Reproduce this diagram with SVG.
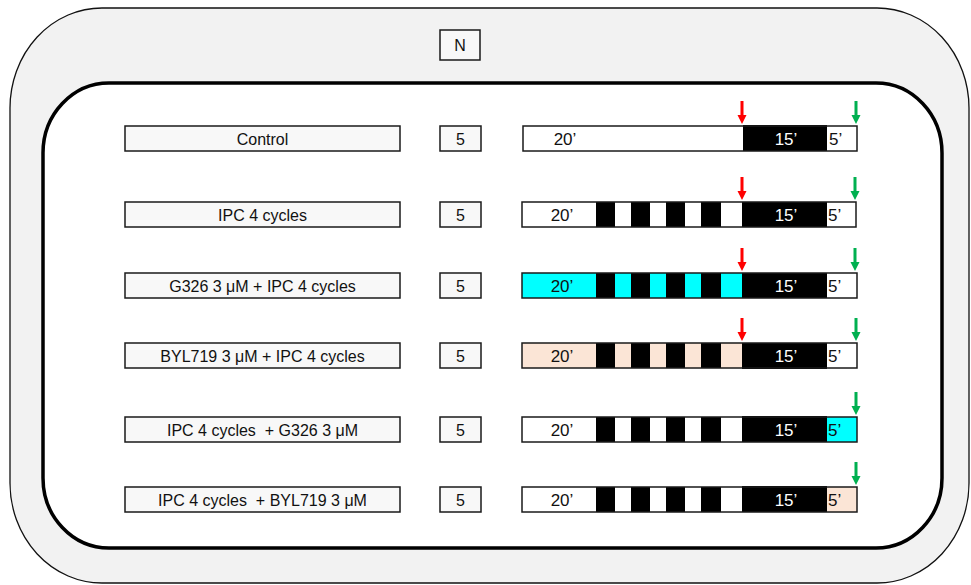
<svg xmlns="http://www.w3.org/2000/svg" xmlns:xlink="http://www.w3.org/1999/xlink" width="971" height="585" viewBox="0 0 971 585">
  <style>
    text { font-family: "Liberation Sans", Arial, sans-serif; font-size: 16px; fill: #111; white-space: pre; }
    .mid { text-anchor: middle; }
    .t { font-size: 17px; }
    .box { fill: #f8f8f8; stroke: #1a1a1a; stroke-width: 1.5; }
    .bar { fill: none; stroke: #1a1a1a; stroke-width: 1.5; }
    .w { fill: #ffffff; }
    .k { fill: #000000; }
    .c { fill: #00ffff; }
    .p { fill: #fbe5d6; }
    .wt { fill: #ffffff; }
    .red { fill: #ff0000; }
    .green { fill: #00b050; }
  </style>
  <defs>
    <!-- down arrow, tip at origin -->
    <path id="dn" d="M-1.5,-23 H1.5 V-9 H4.5 L0,0 L-4.5,-9 H-1.5 Z"/>
    <!-- 4 ischemia/reperfusion cycles between 20' and 15' blocks -->
    <g id="cycles">
      <rect class="k" x="596" y="0" width="19" height="25"/>
      <rect class="k" x="631" y="0" width="19" height="25"/>
      <rect class="k" x="666" y="0" width="19" height="25"/>
      <rect class="k" x="701" y="0" width="20" height="25"/>
    </g>
  </defs>

  <!-- outer frame -->
  <rect id="frame-outer" x="10" y="8" width="959" height="575" rx="92" ry="100" fill="#f2f2f2" stroke="#111" stroke-width="1.3"/>
  <g id="node-n">
    <rect class="box" x="440" y="30" width="40" height="30"/>
    <text class="mid" x="460" y="51">N</text>
  </g>
  <!-- inner frame -->
  <rect id="frame-inner" x="43" y="83" width="899" height="465" rx="66" ry="70" fill="#ffffff" stroke="#000" stroke-width="3.5"/>

  <!-- row 1: Control -->
  <g id="row-control" transform="translate(0,126)">
    <rect class="box" x="125" y="0" width="275" height="25"/>
    <text class="mid" x="262.5" y="18.5">Control</text>
    <rect class="box" x="440" y="0" width="41" height="25"/>
    <text class="mid" x="460.5" y="18.5">5</text>
    <rect class="w" x="523" y="0" width="220" height="25"/>
    <rect class="k" x="743" y="-1" width="84" height="26"/>
    <rect class="w" x="827" y="0" width="30" height="25"/>
    <rect class="bar" x="523" y="0" width="334" height="25"/>
    <text class="mid t" x="565" y="19">20’</text>
    <text class="mid t wt" x="786" y="19">15’</text>
    <text class="t" x="829" y="19">5’</text>
  </g>

  <!-- row 2: IPC 4 cycles -->
  <g id="row-ipc" transform="translate(0,202)">
    <rect class="box" x="125" y="0" width="275" height="25"/>
    <text class="mid" x="262.5" y="18.5">IPC 4 cycles</text>
    <rect class="box" x="440" y="0" width="41" height="25"/>
    <text class="mid" x="460.5" y="18.5">5</text>
    <rect class="w" x="522" y="0" width="220" height="25"/>
    <use xlink:href="#cycles"/>
    <rect class="k" x="742" y="0" width="85" height="25"/>
    <rect class="w" x="827" y="0" width="29" height="25"/>
    <rect class="bar" x="522" y="0" width="334" height="25"/>
    <text class="mid t" x="562" y="19">20’</text>
    <text class="mid t wt" x="786" y="19">15’</text>
    <text class="t" x="828" y="19">5’</text>
  </g>

  <!-- row 3: G326 + IPC -->
  <g id="row-g326-ipc" transform="translate(0,273)">
    <rect class="box" x="125" y="0" width="275" height="25"/>
    <text class="mid" x="262.5" y="18.5">G326 3 μM + IPC 4 cycles</text>
    <rect class="box" x="440" y="0" width="41" height="25"/>
    <text class="mid" x="460.5" y="18.5">5</text>
    <rect class="c" x="522" y="0" width="220" height="25"/>
    <use xlink:href="#cycles"/>
    <rect class="k" x="742" y="0" width="85" height="25"/>
    <rect class="w" x="827" y="0" width="30" height="25"/>
    <rect class="bar" x="522" y="0" width="335" height="25"/>
    <text class="mid t" x="562" y="19">20’</text>
    <text class="mid t wt" x="786" y="19">15’</text>
    <text class="t" x="828" y="19">5’</text>
  </g>

  <!-- row 4: BYL719 + IPC -->
  <g id="row-byl719-ipc" transform="translate(0,343)">
    <rect class="box" x="125" y="0" width="275" height="25"/>
    <text class="mid" x="262.5" y="18.5">BYL719 3 μM + IPC 4 cycles</text>
    <rect class="box" x="440" y="0" width="41" height="25"/>
    <text class="mid" x="460.5" y="18.5">5</text>
    <rect class="p" x="522" y="0" width="220" height="25"/>
    <use xlink:href="#cycles"/>
    <rect class="k" x="742" y="0" width="85" height="26"/>
    <rect class="w" x="827" y="0" width="30" height="25"/>
    <rect class="bar" x="522" y="0" width="335" height="25"/>
    <text class="mid t" x="562" y="19">20’</text>
    <text class="mid t wt" x="786" y="19">15’</text>
    <text class="t" x="828" y="19">5’</text>
  </g>

  <!-- row 5: IPC + G326 -->
  <g id="row-ipc-g326" transform="translate(0,417)">
    <rect class="box" x="125" y="0" width="275" height="25"/>
    <text class="mid" x="262.5" y="18.5" xml:space="preserve">IPC 4 cycles  + G326 3 μM</text>
    <rect class="box" x="440" y="0" width="41" height="25"/>
    <text class="mid" x="460.5" y="18.5">5</text>
    <rect class="w" x="522" y="0" width="220" height="25"/>
    <use xlink:href="#cycles"/>
    <rect class="k" x="742" y="-1" width="85" height="26"/>
    <rect class="c" x="827" y="0" width="30" height="25"/>
    <rect class="bar" x="522" y="0" width="335" height="25"/>
    <text class="mid t" x="562" y="19">20’</text>
    <text class="mid t wt" x="786" y="19">15’</text>
    <text class="t" x="828" y="19">5’</text>
  </g>

  <!-- row 6: IPC + BYL719 -->
  <g id="row-ipc-byl719" transform="translate(0,487)">
    <rect class="box" x="125" y="0" width="275" height="25"/>
    <text class="mid" x="262.5" y="18.5" xml:space="preserve">IPC 4 cycles  + BYL719 3 μM</text>
    <rect class="box" x="440" y="0" width="41" height="25"/>
    <text class="mid" x="460.5" y="18.5">5</text>
    <rect class="w" x="522" y="0" width="220" height="25"/>
    <use xlink:href="#cycles"/>
    <rect class="k" x="742" y="-1" width="85" height="26"/>
    <rect class="p" x="827" y="0" width="30" height="25"/>
    <rect class="bar" x="522" y="0" width="335" height="25"/>
    <text class="mid t" x="562" y="19">20’</text>
    <text class="mid t wt" x="786" y="19">15’</text>
    <text class="t" x="828" y="19">5’</text>
  </g>

  <!-- arrows: red = start of 15' block, green = start of 5' block -->
  <g id="arrows">
    <use class="red" xlink:href="#dn" x="742" y="124"/>
    <use class="green" xlink:href="#dn" x="856" y="124"/>
    <use class="red" xlink:href="#dn" x="742" y="200"/>
    <use class="green" xlink:href="#dn" x="855" y="200"/>
    <use class="red" xlink:href="#dn" x="742" y="271"/>
    <use class="green" xlink:href="#dn" x="855" y="271"/>
    <use class="red" xlink:href="#dn" x="742" y="341"/>
    <use class="green" xlink:href="#dn" x="856" y="341"/>
    <use class="green" xlink:href="#dn" x="856" y="415"/>
    <use class="green" xlink:href="#dn" x="856" y="485"/>
  </g>
</svg>
